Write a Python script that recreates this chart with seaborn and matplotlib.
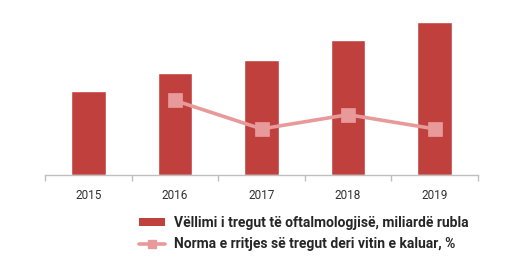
import matplotlib
matplotlib.use("Agg")
import matplotlib.pyplot as plt
from matplotlib.patches import Patch
from matplotlib.lines import Line2D
import seaborn as sns
import pandas as pd
import numpy as np

years = ["2015", "2016", "2017", "2018", "2019"]
volume = [42.0, 51.0, 57.6, 67.4, 76.3]
growth = [np.nan, 21.0, 13.0, 17.0, 13.0]
label_volume = "Vëllimi i tregut të oftalmologjisë, miliardë rubla"
label_growth = "Norma e rritjes së tregut deri vitin e kaluar, %"

bar_color = "#C0403E"
line_color = "#E89A9A"

sns.set_theme(style="white")
plt.rcParams["font.family"] = ["Roboto", "DejaVu Sans"]

df = pd.DataFrame({"year": years, "volume": volume, "growth": growth})

fig = plt.figure(figsize=(5.12, 2.62), dpi=100)
ax = fig.add_axes([45/512, 87/262, 433/512, 165/262])
sns.barplot(data=df, x="year", y="volume", order=years, color=bar_color,
            saturation=1, width=0.4, ax=ax)
ax.set_ylim(0, 82.3)
ax.set_xlim(-0.5, 4.5)

ax2 = ax.twinx()
sns.pointplot(data=df, x="year", y="growth", order=years, color=line_color,
              markers="s", markersize=8, linewidth=2.6, ax=ax2, errorbar=None)
ax2.set_ylim(0, 46.5)
ax2.set_xlim(-0.5, 4.5)

for a in (ax, ax2):
    a.set_ylabel("")
    a.set_xlabel("")
    a.set_yticks([])
    for s in ("top", "right", "left"):
        a.spines[s].set_visible(False)
ax2.spines["bottom"].set_visible(False)
ax.spines["bottom"].set_color("#BFBFBF")
ax.spines["bottom"].set_linewidth(1)

ax.set_xticks(range(len(years)))
ax.set_xticklabels(years, fontsize=8.5, color="#303030")
ax.tick_params(axis="x", length=0, pad=10)
ax.set_xticks(np.arange(-0.5, len(years), 1), minor=True)
ax.tick_params(axis="x", which="minor", length=4, color="#BFBFBF", width=1, direction="out", bottom=True)

handles = [
    Patch(facecolor=bar_color, edgecolor="none", label=label_volume),
    Line2D([0], [0], color=line_color, lw=2.6, marker="s", markersize=6, label=label_growth),
]
fig.legend(handles=handles, loc="upper left", bbox_to_anchor=(126/512, 1 - 203/262),
           frameon=False, handlelength=1.9, handleheight=0.5,
           handletextpad=0.65, labelspacing=0.55,
           prop={"family": ["Roboto", "DejaVu Sans"], "weight": "bold", "size": 10})

fig.savefig("out.png", dpi=100)
